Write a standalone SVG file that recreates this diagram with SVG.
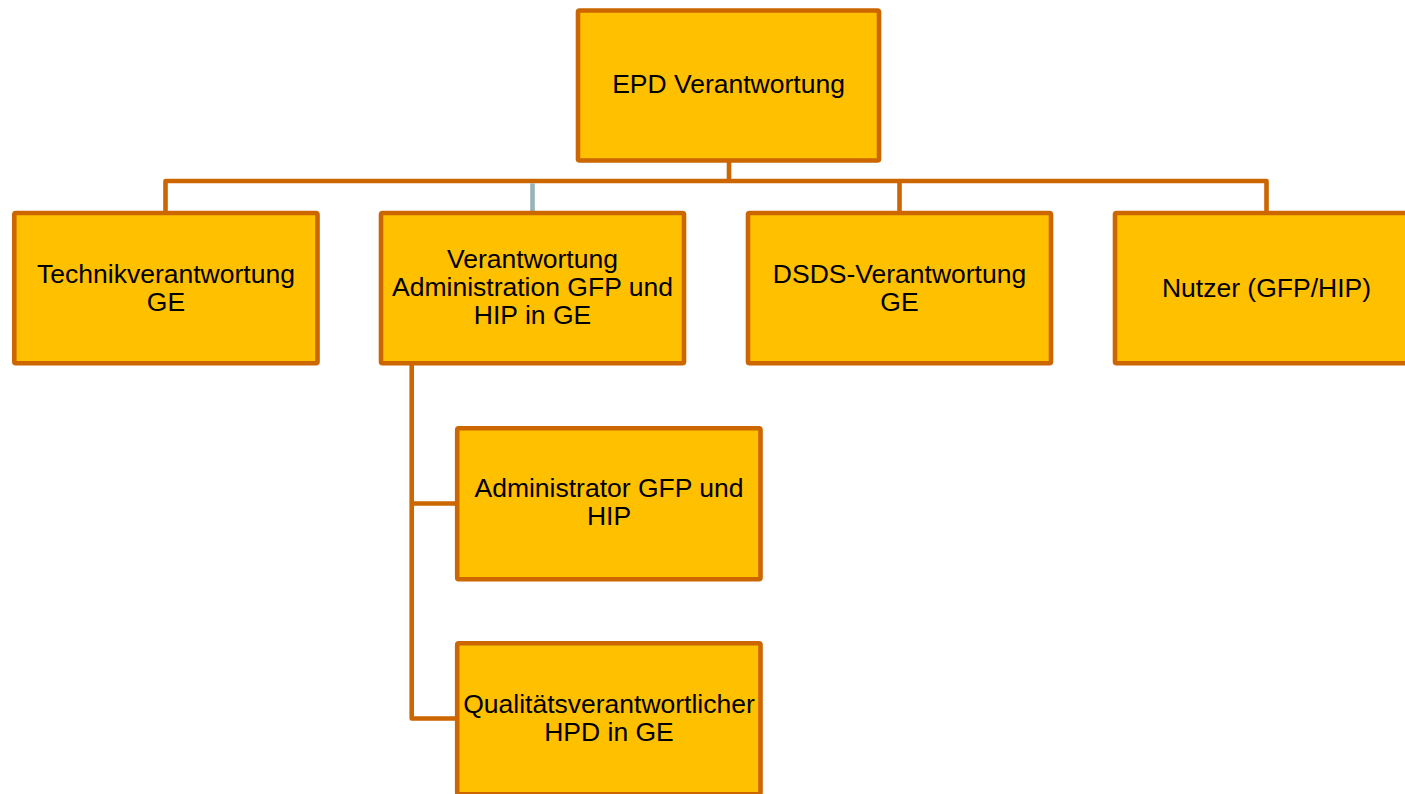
<svg xmlns="http://www.w3.org/2000/svg" width="1405" height="794" viewBox="0 0 1405 794">
<style>
.box{fill:#FFC000;stroke:#CC6600;stroke-width:4.6;stroke-linejoin:round}
.lbl{font-family:"Liberation Sans",Arial,sans-serif;font-size:26.5px;fill:#000;text-anchor:middle}
.conn{fill:none;stroke:#CC6600;stroke-width:4.6;stroke-linejoin:round}
.conn2{fill:none;stroke:#97B3BA;stroke-width:4.6}
</style>
<rect width="1405" height="794" fill="#FFFFFF"/>
<g id="connectors">
<path class="conn" d="M729 161 V181 M165.5 212 V181 H1266.5 V213"/>
<path class="conn" d="M899.5 181 V213"/>
<path class="conn2" d="M532.5 183.3 V211"/>
<path class="conn" d="M411.7 363 V718.5 H457 M411.7 503.5 H457"/>
</g>
<g id="n_epd">
<rect class="box" x="578" y="10.5" width="301" height="150" rx="1.5"/>
<text class="lbl" x="728.5" y="93">EPD Verantwortung</text>
</g>
<g id="n_technik">
<rect class="box" x="14.3" y="213" width="303.2" height="150.3" rx="1.5"/>
<text class="lbl" x="166" y="283">Technikverantwortung</text>
<text class="lbl" x="166" y="311">GE</text>
</g>
<g id="n_admin_verantw">
<rect class="box" x="381" y="213" width="303" height="150.3" rx="1.5"/>
<text class="lbl" x="532.5" y="268">Verantwortung</text>
<text class="lbl" x="532.5" y="296">Administration GFP und</text>
<text class="lbl" x="532.5" y="324">HIP in GE</text>
</g>
<g id="n_dsds">
<rect class="box" x="748" y="213" width="303" height="150.3" rx="1.5"/>
<text class="lbl" x="899.5" y="283">DSDS-Verantwortung</text>
<text class="lbl" x="899.5" y="311">GE</text>
</g>
<g id="n_nutzer">
<rect class="box" x="1115" y="213" width="303" height="150.3" rx="1.5"/>
<text class="lbl" x="1266.5" y="297">Nutzer (GFP/HIP)</text>
</g>
<g id="n_administrator">
<rect class="box" x="457.2" y="428.3" width="303.3" height="150.9" rx="1.5"/>
<text class="lbl" x="609" y="497">Administrator GFP und</text>
<text class="lbl" x="609" y="525">HIP</text>
</g>
<g id="n_qualitaet">
<rect class="box" x="457.2" y="643.3" width="303.3" height="150.9" rx="1.5"/>
<text class="lbl" x="609" y="713">Qualitätsverantwortlicher</text>
<text class="lbl" x="609" y="741">HPD in GE</text>
</g>
</svg>
